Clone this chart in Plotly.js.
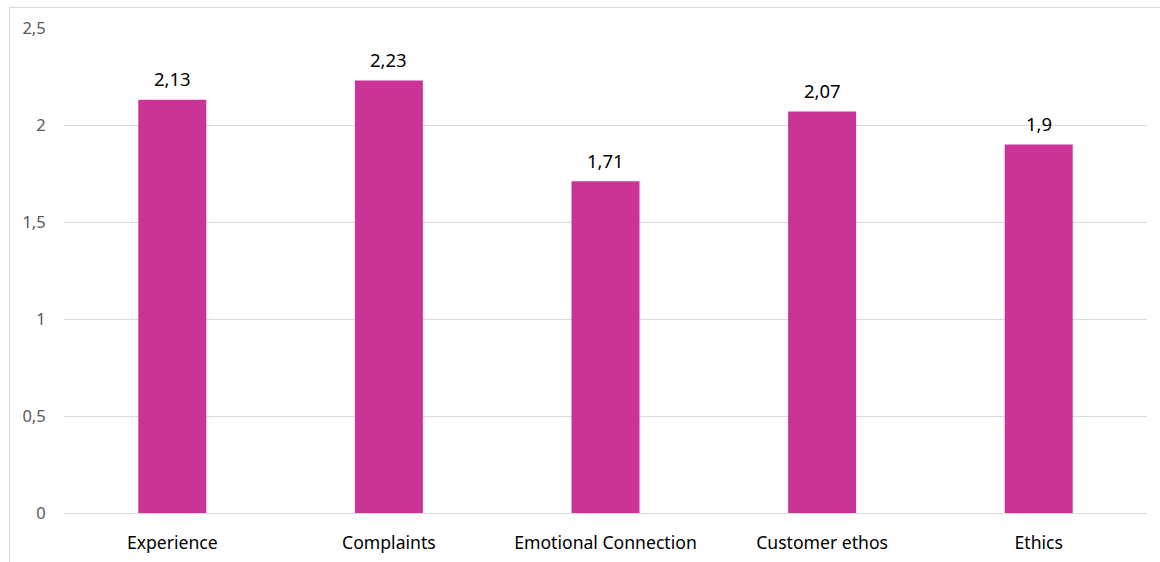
<!DOCTYPE html>
<html>
<head>
<meta charset="utf-8">
<script src="https://cdn.plot.ly/plotly-3.0.1.min.js"></script>
<style>
  html, body { margin: 0; padding: 0; background: #fff; overflow: hidden; }
  #frame { position: absolute; left: 9px; top: 7px; width: 1300px; height: 700px; border: 1px solid #d9d9d9; box-sizing: border-box; }
  #chart { position: absolute; left: 0; top: 0; width: 1160px; height: 562px; }
</style>
</head>
<body>
<div id="frame"></div>
<div id="chart"></div>
<script>
// Average score per dimension
const categories = ["Experience", "Complaints", "Emotional Connection", "Customer ethos", "Ethics"];
const scores = [2.13, 2.23, 1.71, 2.07, 1.9];
const yTickValues = [0, 0.5, 1, 1.5, 2, 2.5];
const yTickLabels = ["0", "0,5", "1", "1,5", "2", "2,5"];

const FONT = "'Noto Sans', 'Open Sans', sans-serif";

const trace = {
  type: "bar",
  x: categories,
  y: scores,
  marker: { color: "#CB3497" },
  hoverinfo: "skip"
};

// value labels above each bar, decimal comma
const labels = categories.map((c, i) => ({
  x: c,
  y: scores[i],
  xref: "x",
  yref: "y",
  text: String(scores[i]).replace(".", ","),
  showarrow: false,
  yanchor: "middle",
  yshift: 21,
  font: { family: FONT, size: 18.5, color: "#000" }
}));

const layout = {
  width: 1160,
  height: 562,
  margin: { l: 64, r: 13, t: 28, b: 49 },
  paper_bgcolor: "rgba(0,0,0,0)",
  plot_bgcolor: "rgba(0,0,0,0)",
  separators: ", ",
  bargap: 0.686,
  showlegend: false,
  font: { family: FONT },
  annotations: labels,
  xaxis: {
    type: "category",
    showgrid: false,
    showline: false,
    zeroline: false,
    ticks: "outside",
    ticklen: 14,
    tickcolor: "rgba(0,0,0,0)",
    tickfont: { size: 17.6, color: "#000" }
  },
  yaxis: {
    range: [0, 2.5],
    tickvals: yTickValues,
    ticktext: yTickLabels,
    showgrid: true,
    gridcolor: "#d9d9d9",
    gridwidth: 1,
    zeroline: true,
    zerolinecolor: "#d9d9d9",
    zerolinewidth: 1,
    showline: false,
    ticks: "outside",
    ticklen: 14,
    tickfont: { size: 16.5, color: "#595959" },
    tickcolor: "rgba(0,0,0,0)"
  }
};

Plotly.newPlot("chart", [trace], layout, { staticPlot: true, displayModeBar: false });
</script>
</body>
</html>
